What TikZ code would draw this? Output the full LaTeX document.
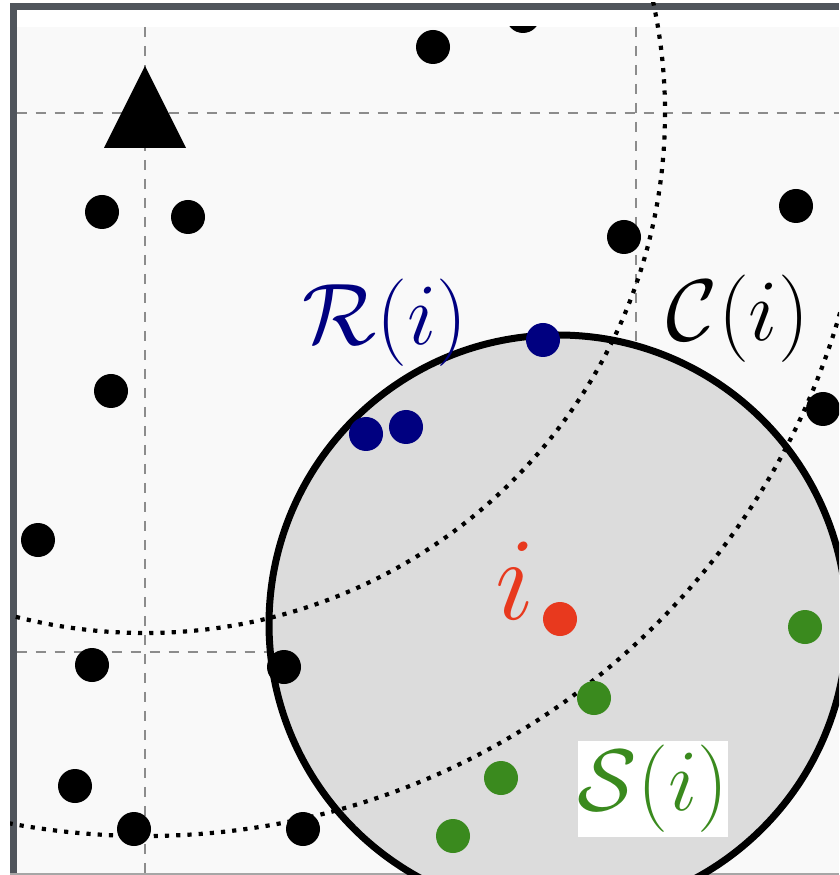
\documentclass[tikz,border=0pt]{standalone}
\usepackage{amsmath,amssymb}
\usepackage{tikz}
\usetikzlibrary{positioning}
\definecolor{framegray}{RGB}{80,85,92}
\definecolor{bggray}{RGB}{249,249,249}
\definecolor{discgray}{RGB}{220,220,220}
\definecolor{gridgray}{RGB}{140,140,140}
\definecolor{ptnavy}{RGB}{0,0,128}
\definecolor{ptred}{RGB}{232,57,30}
\definecolor{ptgreen}{RGB}{58,138,30}
\tikzset{
  gdot/.style ={circle, fill=black, minimum size=3.4mm, inner sep=0pt},
  gdotR/.style={gdot, fill=ptnavy},
  gdotS/.style={gdot, fill=ptgreen},
  gdotI/.style={gdot, fill=ptred},
  ggrid/.style={gridgray, line width=0.18mm, dash pattern=on 1mm off 0.9mm},
  gring/.style={line width=0.42mm, dotted},
  gdisc/.style={fill=discgray, draw=black, line width=0.7mm},
  glabel/.style={inner sep=0pt, font=\fontsize{24.88}{30}\selectfont},
}

\begin{document}
\begin{tikzpicture}[x=0.1mm, y=-0.1mm]
  \useasboundingbox (0,0) rectangle (839,875);
  \clip (0,0) rectangle (839,875);
  % frame and background
  \fill[white] (0,0) rectangle (839,875);
  \fill[bggray] (16.5,27) rectangle (839,875);
  \fill[framegray] (10,3) rectangle (839,10.5);
  \fill[framegray] (10,3) rectangle (16.5,875);
  \draw[gray!70, line width=0.15mm] (10,874.2) -- (839,874.2);
  % grid
  \draw[ggrid] (145,27) -- (145,875) (636,27) -- (636,875);
  \draw[ggrid] (16.5,113) -- (839,113) (16.5,652) -- (839,652);
  % sensing disc
  \draw[gdisc] (558,624) circle (289);
  % rings round the anchor
  \coordinate (hub) at (145,113);
  \begin{scope}
    \clip (10,3) rectangle (839,875);
    \draw[gring] (hub) circle (520);
    \draw[gring] (hub) circle (723);
  \end{scope}
  \fill (145,66) -- (104,148) -- (186,148) -- cycle;
  % points
  \begin{scope}
    \clip (16.5,27) rectangle (839,875);
    \foreach \x/\y [count=\k] in {433/47, 523/16, 102/212, 188/217, 624/237,
        796/206, 111/391, 38/540, 823/409, 92/665, 284/667, 75/786,
        134/829, 303/829}
      \node[gdot] (p\k) at (\x,\y) {};
    \foreach \x/\y [count=\k] in {366/434, 406/427, 543/340}
      \node[gdotR] (r\k) at (\x,\y) {};
    \foreach \x/\y [count=\k] in {805/627, 594/698, 501/778, 453/836}
      \node[gdotS] (s\k) at (\x,\y) {};
    \node[gdotI] (pi) at (560,619) {};
  \end{scope}
  % labels
  \node[glabel, text=ptnavy] (lblR) at (385,323) {$\mathcal{R}(i)$};
  \node[glabel] (lblC) at (738,319) {$\mathcal{C}(i)$};
  \node[glabel, text=ptgreen, fill=white, minimum width=15mm,
        minimum height=9.6mm] (lblS) at (653,789) {$\mathcal{S}(i)$};
  \node[glabel, text=ptred, scale=1.35] (lblI) at (515,581) {$i$};
\end{tikzpicture}
\end{document}
